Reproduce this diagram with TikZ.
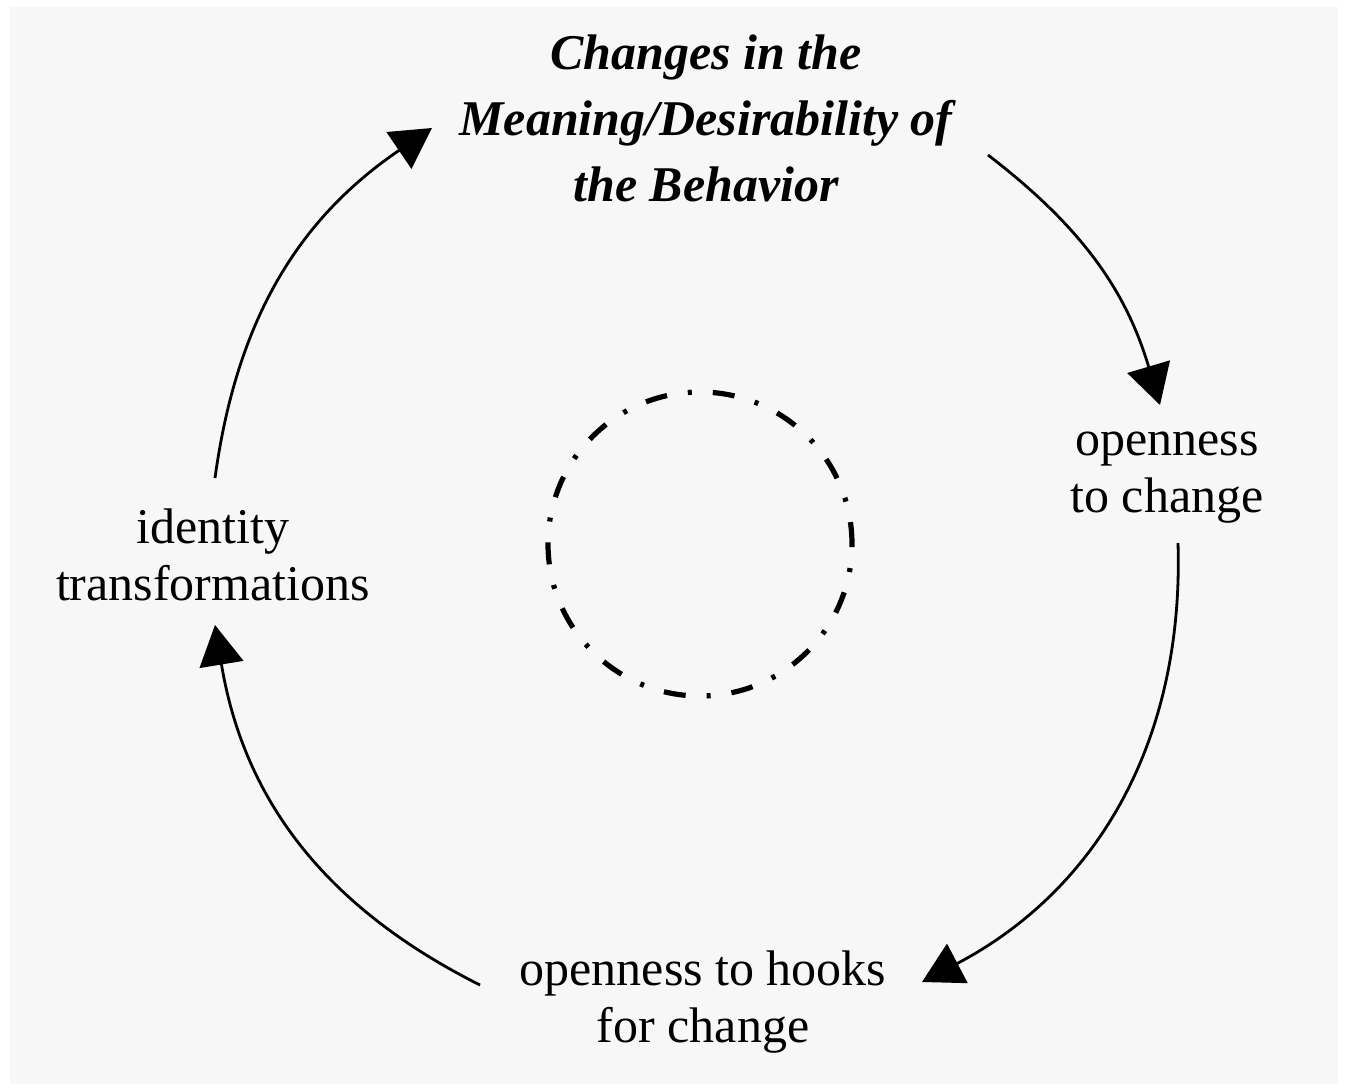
\documentclass[tikz,border=0pt]{standalone}
\usepackage{fontspec}
\setmainfont{Liberation Serif}
\usetikzlibrary{arrows.meta}
\definecolor{bggray}{HTML}{F7F7F7}
\tikzset{
  lbl/.style={align=center, inner sep=0pt, font=\fontsize{25}{28.5}\selectfont},
  ttl/.style={align=center, inner sep=0pt, font=\fontsize{25}{33}\selectfont\bfseries\itshape},
  flow/.style={line width=1.4pt, -{Triangle[length=20pt,width=22pt]}},
  core/.style={line width=2.6pt, dash pattern=on 11pt off 10.5pt on 2pt off 10.5pt}
}
\begin{document}
\begin{tikzpicture}[x=0.5pt,y=-0.5pt]
\useasboundingbox (0,0) rectangle (1345,1089);
\fill[white] (0,0) rectangle (1345,1089);
\fill[bggray] (10,7) rectangle (1338,1084);
% texts
\node[ttl] (title) at (706,118) {Changes in the\\Meaning/Desirability of\\the Behavior};
\node[lbl] (open) at (1167,478) {openness\\to change};
\node[lbl] (ident) at (213,555) {identity\\transformations};
\node[lbl] (hooks) at (703,1002) {openness to hooks\\for change};
% central circle
\node[draw, core, circle, minimum size=152pt, inner sep=0pt] (centre) at (700,544) {};
% arrow end points
\coordinate (a1s) at (215,478);
\coordinate (a1e) at (432,128);
\coordinate (a2s) at (988,155);
\coordinate (a2e) at (1160,405);
\coordinate (a3s) at (1178,543);
\coordinate (a3e) at (922,982);
\coordinate (a4s) at (480,985);
\coordinate (a4e) at (215,625);
\draw[flow] (a1s) to[bend left=24] (a1e);
\draw[flow] (a2s) to[bend left=18] (a2e);
\draw[flow] (a3s) to[bend left=32] (a3e);
\draw[flow] (a4s) to[bend left=27] (a4e);
\end{tikzpicture}
\end{document}
